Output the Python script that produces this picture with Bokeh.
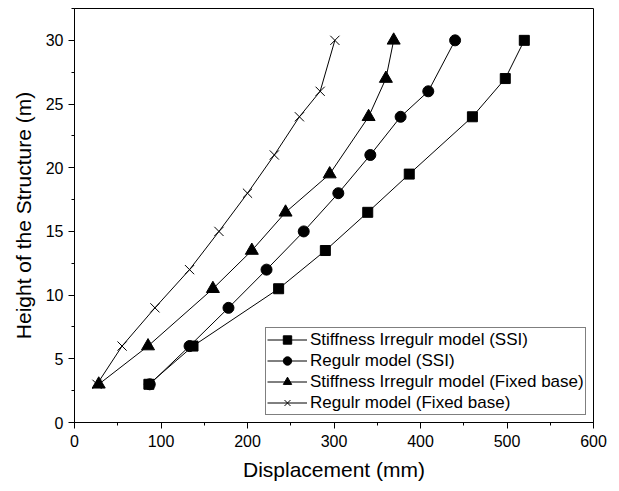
from bokeh.plotting import figure
from bokeh.models import Range1d, SingleIntervalTicker, Legend, LegendItem
from bokeh.embed import file_html
from bokeh.resources import INLINE

heights_a = [3, 6, 10.5, 13.5, 16.5, 19.5, 24, 27, 30]
irr_ssi = [86, 137, 236, 290, 339, 387, 460, 498, 520]

heights_b = [3, 6, 9, 12, 15, 18, 21, 24, 26, 30]
reg_ssi = [87, 133, 178, 222, 265, 305, 342, 377, 409, 440]

heights_c = [3, 6, 10.5, 13.5, 16.5, 19.5, 24, 27, 30]
irr_fixed = [28, 85, 160, 205, 244, 295, 340, 360, 369]

heights_d = [3, 6, 9, 12, 15, 18, 21, 24, 26, 30]
reg_fixed = [26, 55, 93, 133, 167, 200, 231, 260, 284, 301]

labels = ["Stiffness Irregulr model (SSI)", "Regulr model (SSI)",
          "Stiffness Irregulr model (Fixed base)", "Regulr model (Fixed base)"]

FONT = "Liberation Sans"

p = figure(width=611, height=483, output_backend="svg", toolbar_location=None,
           x_range=Range1d(0, 600), y_range=Range1d(0, 32.5),
           min_border_left=74, min_border_right=18, min_border_top=8, min_border_bottom=58)
p.xgrid.visible = False
p.ygrid.visible = False
p.outline_line_color = "black"
p.outline_line_width = 1
p.background_fill_color = "white"

p.xaxis.ticker = SingleIntervalTicker(interval=100, num_minor_ticks=2)
p.yaxis.ticker = SingleIntervalTicker(interval=5, num_minor_ticks=2)
for ax in (p.xaxis, p.yaxis):
    ax.major_tick_in = 0
    ax.major_tick_out = 6
    ax.minor_tick_in = 0
    ax.minor_tick_out = 3
    ax.axis_line_color = "black"
    ax.major_tick_line_color = "black"
    ax.minor_tick_line_color = "black"
    ax.major_label_text_font = FONT
    ax.major_label_text_font_size = "16px"
    ax.major_label_text_color = "black"
    ax.axis_label_text_font = FONT
    ax.axis_label_text_font_size = "21px"
    ax.axis_label_text_font_style = "normal"
    ax.axis_label_text_color = "black"
p.xaxis.axis_label = "Displacement (mm)"
p.yaxis.axis_label = "Height of the Structure (m)"
p.xaxis.major_label_standoff = 6
p.yaxis.major_label_standoff = 5
p.xaxis.axis_label_standoff = 8
p.yaxis.axis_label_standoff = 8

items = []
l1 = p.line(irr_ssi, heights_a, line_color="black", line_width=1)
m1 = p.scatter(irr_ssi, heights_a, marker="square", size=10, fill_color="black", line_color="black")
items.append(LegendItem(label=labels[0], renderers=[l1, m1]))

l2 = p.line(reg_ssi, heights_b, line_color="black", line_width=1)
m2 = p.scatter(reg_ssi, heights_b, marker="circle", size=11, fill_color="black", line_color="black")
items.append(LegendItem(label=labels[1], renderers=[l2, m2]))

l3 = p.line(irr_fixed, heights_c, line_color="black", line_width=1)
m3 = p.scatter(irr_fixed, heights_c, marker="triangle", size=13, fill_color="black", line_color="black")
items.append(LegendItem(label=labels[2], renderers=[l3, m3]))

l4 = p.line(reg_fixed, heights_d, line_color="black", line_width=1)
m4 = p.scatter(reg_fixed, heights_d, marker="x", size=13, line_color="black", line_width=1)
items.append(LegendItem(label=labels[3], renderers=[l4, m4]))

legend = Legend(items=items, location=(191, 7))
legend.border_line_color = "black"
legend.border_line_width = 1
legend.background_fill_alpha = 1
legend.padding = 1
legend.spacing = 0
legend.margin = 0
legend.glyph_width = 40
legend.glyph_height = 21
legend.label_height = 21
legend.label_standoff = 3
legend.label_text_font = FONT
legend.label_text_font_size = "17px"
legend.label_text_color = "black"
p.add_layout(legend, "center")

open("out.html", "w").write(file_html(p, INLINE))
